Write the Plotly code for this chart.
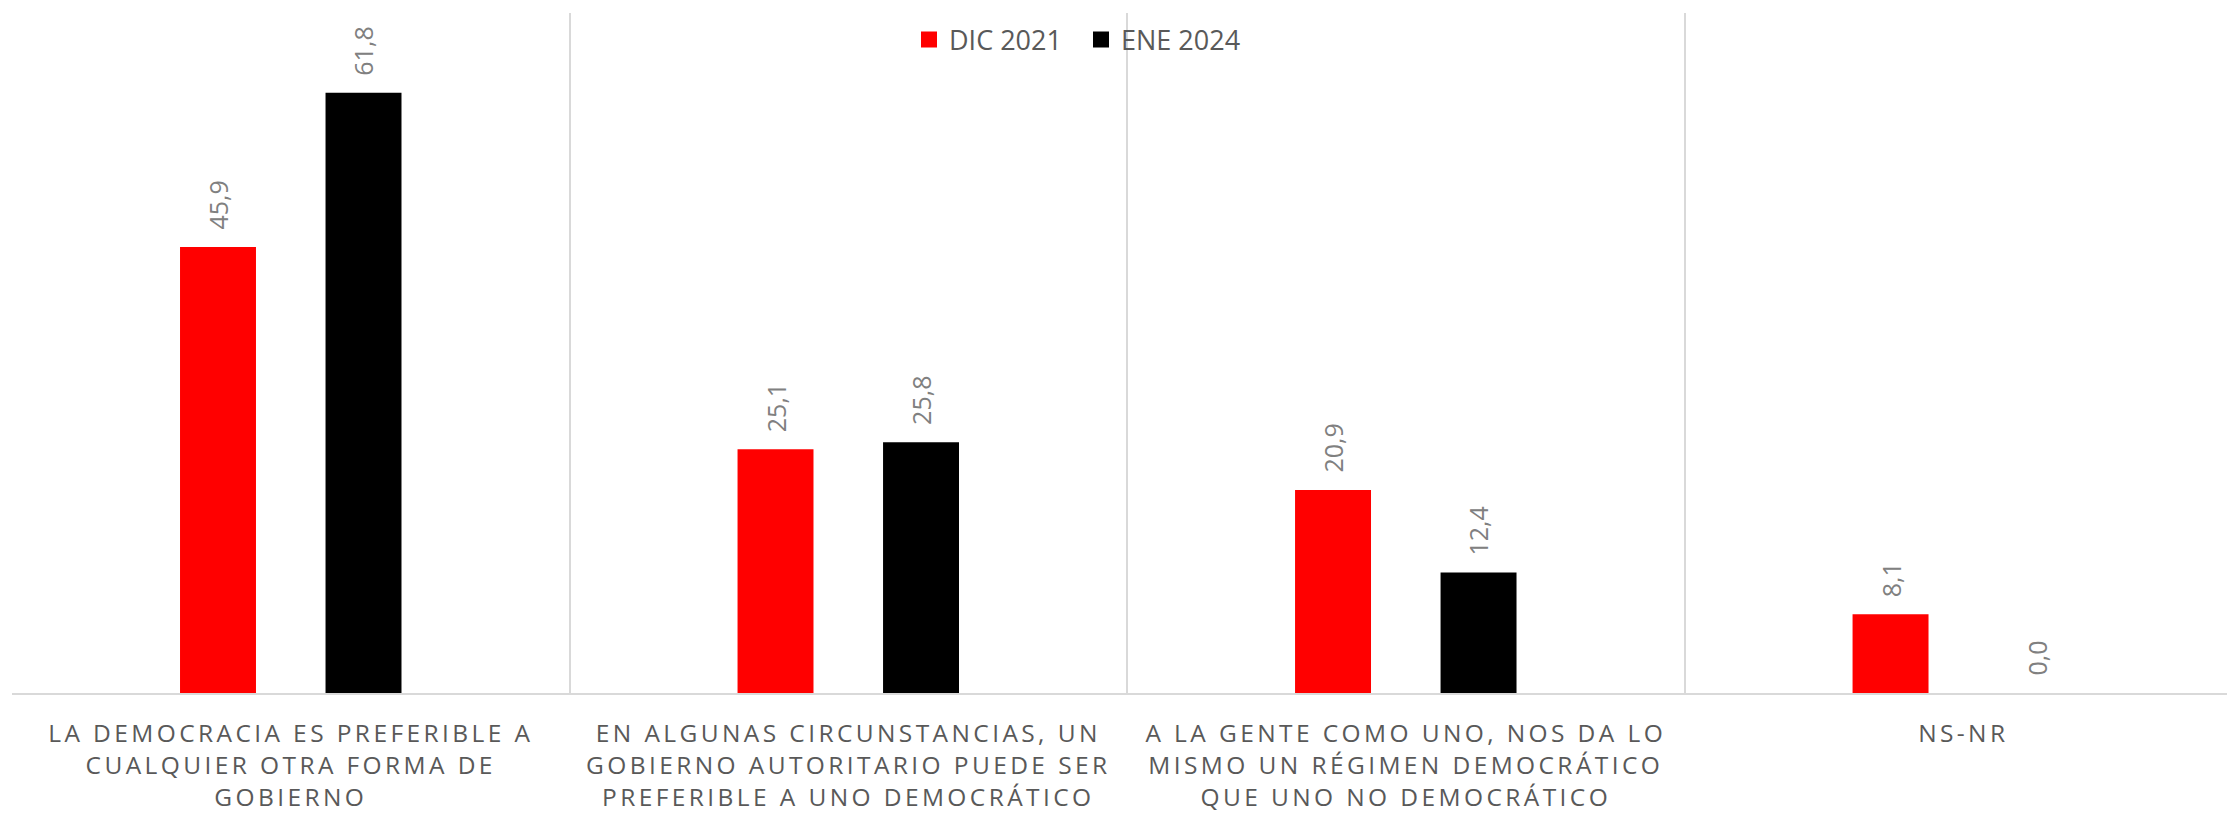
import plotly.graph_objects as go

# ---- data ----
tick_labels = [
    "LA DEMOCRACIA ES PREFERIBLE A<br>CUALQUIER OTRA FORMA DE<br>GOBIERNO",
    "EN ALGUNAS CIRCUNSTANCIAS, UN<br>GOBIERNO AUTORITARIO PUEDE SER<br>PREFERIBLE A UNO DEMOCRÁTICO",
    "A LA GENTE COMO UNO, NOS DA LO<br>MISMO UN RÉGIMEN DEMOCRÁTICO<br>QUE UNO NO DEMOCRÁTICO",
    "NS-NR",
]
series_names = ["DIC 2021", "ENE 2024"]
dic_2021 = [45.9, 25.1, 20.9, 8.1]
ene_2024 = [61.8, 25.8, 12.4, 0.0]
series_values = [dic_2021, ene_2024]
series_colors = ["#ff0000", "#000000"]

# ---- layout constants ----
W, H = 2227, 813
ML, MR, MT, MB = 12, 0, 13, 118
XMIN, XMAX = -0.5, 3.473
YMAX = 70
BARGAP = 0.478
BARGROUPGAP = 0.478

fig = go.Figure()
for name, vals, col in zip(series_names, series_values, series_colors):
    fig.add_trace(go.Bar(x=tick_labels, y=vals, name=name, marker_color=col,
                         marker_line_width=0, showlegend=False))
    fig.add_trace(go.Scatter(x=[None], y=[None], mode="markers", name=name,
                             marker=dict(symbol="square", size=18, color=col)))

# value labels (rotated, placed above each bar)
plot_w = W - ML - MR
cat_px = plot_w / (XMAX - XMIN)
offset_px = (1 - BARGAP) / 4 * cat_px
for si, vals in enumerate(series_values):
    sign = -1 if si == 0 else 1
    for cat, v in zip(tick_labels, vals):
        fig.add_annotation(x=cat, y=v, xref="x", yref="y",
                           text=f"{v:.1f}".replace(".", ","),
                           textangle=-90, showarrow=False,
                           xanchor="center", yanchor="bottom",
                           xshift=sign * offset_px, yshift=15,
                           font=dict(family="Open Sans", size=25, color="#808080"))

fig.update_layout(
    width=W, height=H,
    margin=dict(l=ML, r=MR, t=MT, b=MB),
    paper_bgcolor="white", plot_bgcolor="white",
    barmode="group", bargap=BARGAP, bargroupgap=BARGROUPGAP,
    font=dict(family="Open Sans", color="#595959"),
    legend=dict(orientation="h", x=(909 - ML) / plot_w, xanchor="left",
                y=(695 - 40) / (H - MT - MB), yanchor="middle",
                entrywidth=127, entrywidthmode="pixels",
                font=dict(family="Open Sans", size=27, color="#595959"),
                bgcolor="rgba(0,0,0,0)"),
    showlegend=True,
)
fig.update_xaxes(range=[XMIN, XMAX], tickson="boundaries", showgrid=True,
                 gridcolor="#d9d9d9", gridwidth=1.5, ticks="",
                 showline=True, linecolor="#d9d9d9", linewidth=2,
                 ticklabelstandoff=18,
                 tickfont=dict(family="Open Sans", size=24.5, color="#595959"),
                 fixedrange=True)
fig.update_yaxes(range=[0, YMAX], showgrid=False, zeroline=False,
                 showticklabels=False, showline=False, fixedrange=True)

post = """
document.body.style.margin = '0';
var gd = document.getElementById('{plot_id}');
function ls(){ gd.querySelectorAll('.xtick text').forEach(function(t){ t.style.letterSpacing = '3.4px'; }); }
ls();
gd.on('plotly_afterplot', ls);
"""
fig.write_html("out.html", post_script=post, config={"displayModeBar": False})
